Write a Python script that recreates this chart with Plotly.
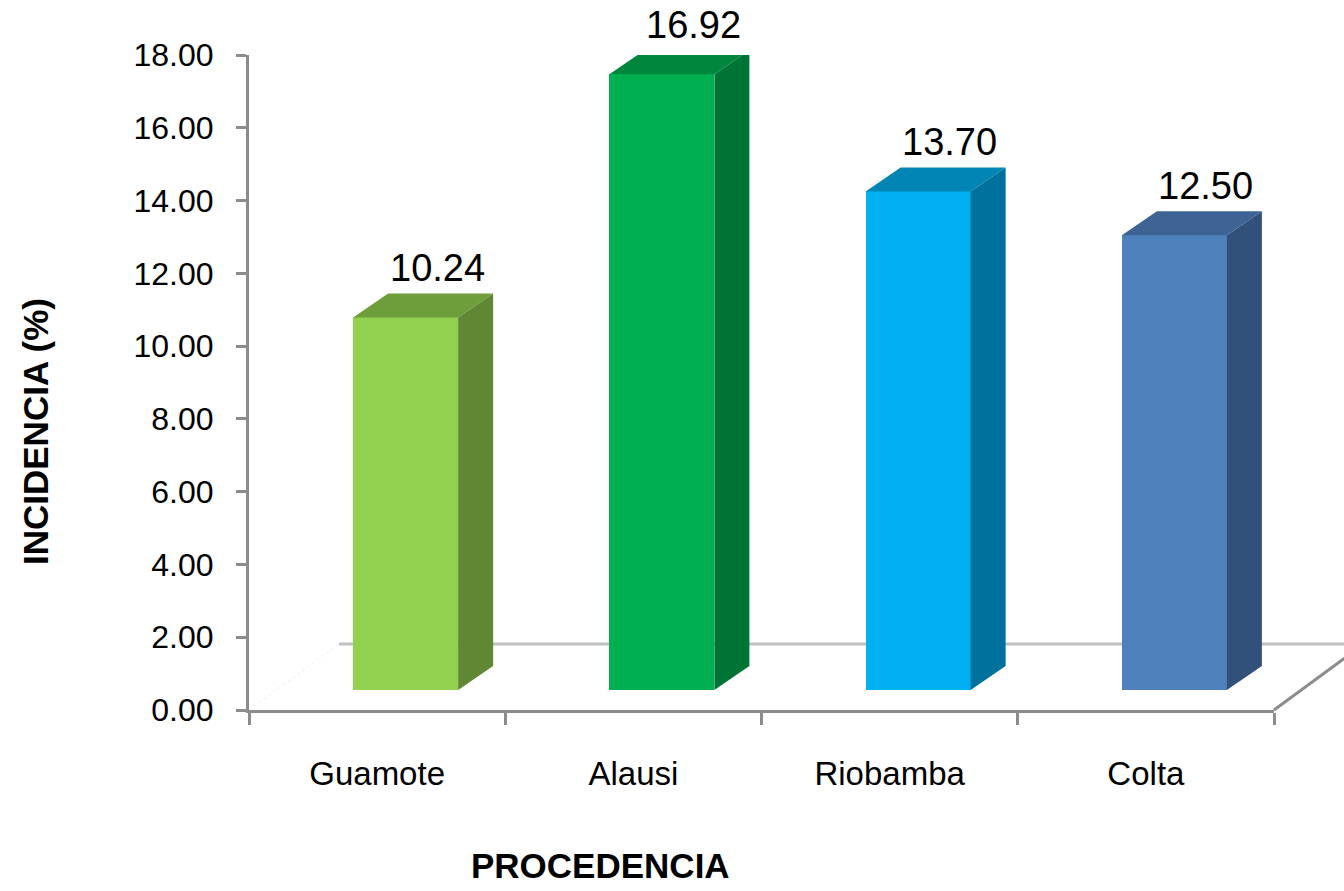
import plotly.graph_objects as go

# ---- data ----
procedencia = ["Guamote", "Alausi", "Riobamba", "Colta"]
incidencia = [10.24, 16.92, 13.70, 12.50]
y_ticks = [0, 2, 4, 6, 8, 10, 12, 14, 16, 18]

# face colours: front / side / top
front_colors = ["#92D050", "#00B050", "#00B0F0", "#4F81BD"]
side_colors = ["#5F8734", "#007434", "#00719C", "#31507A"]
top_colors = ["#6E9D3C", "#00873E", "#0085B5", "#3D6494"]

# ---- layout geometry (pixels) ----
W, H = 1344, 891
L, R, T, B = 249, 70, 55, 181
plot_w = W - L - R
plot_h = H - T - B
Y_MAX = 18.0
px_per_cat = plot_w / len(procedencia)
px_per_unit = plot_h / Y_MAX

# pseudo-3D bar geometry, converted to axis units
bar_shift = 28.5 / px_per_cat        # bars sit slightly right of category centre
bar_width = 105 / px_per_cat
bar_base = 20 / px_per_unit           # bars stand on a floor raised above the axis
depth_dx = 35 / px_per_cat
depth_dy = 24 / px_per_unit

# floor (back edge) offset in pixels
floor_dx, floor_dy = 90, 66


def px_x(px):
    return (px - L) / plot_w


def px_y(py):
    return (H - B - py) / plot_h


fig = go.Figure()

for i, (name, v) in enumerate(zip(procedencia, incidencia)):
    xc = i + bar_shift
    x0, x1 = xc - bar_width / 2, xc + bar_width / 2
    top = bar_base + v
    # right side face
    fig.add_trace(go.Scatter(
        x=[x1, x1, x1 + depth_dx, x1 + depth_dx, x1],
        y=[bar_base, top, top + depth_dy, bar_base + depth_dy, bar_base],
        mode="lines", fill="toself", fillcolor=side_colors[i],
        line=dict(width=0, color=side_colors[i]), hoverinfo="skip", showlegend=False,
    ))
    # top face
    fig.add_trace(go.Scatter(
        x=[x0, x1, x1 + depth_dx, x0 + depth_dx, x0],
        y=[top, top, top + depth_dy, top + depth_dy, top],
        mode="lines", fill="toself", fillcolor=top_colors[i],
        line=dict(width=0, color=top_colors[i]), hoverinfo="skip", showlegend=False,
    ))

# front faces
fig.add_trace(go.Bar(
    x=[i + bar_shift for i in range(len(procedencia))],
    y=incidencia,
    base=bar_base,
    width=bar_width,
    marker=dict(color=front_colors, line=dict(width=0)),
    showlegend=False,
    hovertext=procedencia,
))

# value labels above each bar (anchored on the front top edge)
for i, v in enumerate(incidencia):
    fig.add_annotation(
        x=i + bar_shift + depth_dx / 2, y=bar_base + v,
        text=f"{v:.2f}", showarrow=False, xanchor="center", yanchor="middle",
        xshift=14, yshift=49,
        font=dict(family="Liberation Sans, Arial, sans-serif", size=38, color="#000000"),
    )

# floor outline behind the bars
grey = "#8C8C8C"
fig.add_shape(type="line", xref="paper", yref="paper", layer="below",
              x0=px_x(L + floor_dx), y0=px_y(H - B - floor_dy),
              x1=px_x(W - R + floor_dx), y1=px_y(H - B - floor_dy),
              line=dict(color="#C0C0C0", width=3))
fig.add_shape(type="line", xref="paper", yref="paper", layer="below",
              x0=px_x(W - R), y0=px_y(H - B),
              x1=px_x(W - R + floor_dx), y1=px_y(H - B - floor_dy),
              line=dict(color=grey, width=3))
fig.add_shape(type="line", xref="paper", yref="paper", layer="below",
              x0=px_x(L), y0=px_y(H - B),
              x1=px_x(L + floor_dx), y1=px_y(H - B - floor_dy),
              line=dict(color="#EEEEEE", width=1, dash="dot"))

# axis titles
fig.add_annotation(
    xref="paper", yref="paper", x=px_x(35), y=px_y(432),
    text="<b>INCIDENCIA (%)</b>", textangle=-90, showarrow=False,
    xanchor="center", yanchor="middle",
    font=dict(family="Liberation Sans, Arial, sans-serif", size=35, color="#000000"),
)
fig.add_annotation(
    xref="paper", yref="paper", x=px_x(600), y=px_y(866),
    text="<b>PROCEDENCIA</b>", showarrow=False,
    xanchor="center", yanchor="middle",
    font=dict(family="Liberation Sans, Arial, sans-serif", size=35, color="#000000"),
)

fig.update_layout(
    width=W, height=H,
    margin=dict(l=L, r=R, t=T, b=B, pad=0),
    paper_bgcolor="#FFFFFF", plot_bgcolor="#FFFFFF",
    bargap=0,
    xaxis=dict(
        range=[-0.5, len(procedencia) - 0.5],
        tickmode="array", tickvals=list(range(len(procedencia))), ticktext=procedencia,
        ticks="", showgrid=False, zeroline=False,
        showline=True, linecolor=grey, linewidth=3,
        ticklabelstandoff=32,
        tickfont=dict(family="Liberation Sans, Arial, sans-serif", size=33, color="#000000"),
        minor=dict(tick0=-0.5, dtick=1, ticks="outside", ticklen=12,
                   tickwidth=3, tickcolor=grey, showgrid=False),
        fixedrange=True,
    ),
    yaxis=dict(
        range=[0, Y_MAX],
        tickmode="array", tickvals=y_ticks, tickformat=".2f",
        ticks="outside", ticklen=10, tickwidth=3, tickcolor=grey,
        showgrid=False, zeroline=False,
        showline=True, linecolor=grey, linewidth=3,
        ticklabelstandoff=16,
        tickfont=dict(family="Liberation Sans, Arial, sans-serif", size=32, color="#000000"),
        fixedrange=True,
    ),
)

fig.write_html("out.html")
